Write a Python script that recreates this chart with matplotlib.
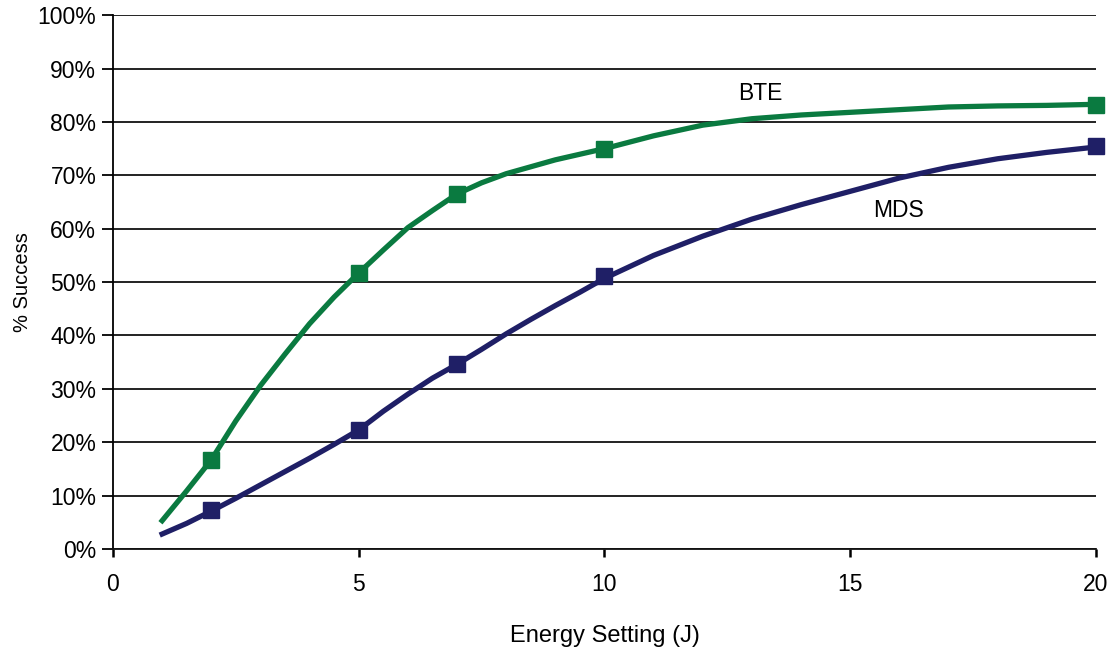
import matplotlib.pyplot as plt
from matplotlib.ticker import FuncFormatter

plt.rcParams["font.family"] = ["Liberation Sans", "DejaVu Sans"]

# curve readings (energy in J, % success)
bte_x = [1, 1.5, 2, 2.5, 3, 3.5, 4, 4.5, 5, 5.5, 6, 6.5, 7, 7.5, 8, 9, 10,
         11, 12, 13, 14, 15, 16, 17, 18, 19, 20]
bte_y = [5.3, 10.9, 16.7, 24, 30.6, 36.5, 42.2, 47.2, 51.7, 56, 60.2, 63.4, 66.5, 68.6, 70.3, 72.9, 75,
         77.4, 79.4, 80.6, 81.3, 81.8, 82.3, 82.8, 83, 83.1, 83.3]
mds_x = [1, 1.5, 2, 2.5, 3, 3.5, 4, 4.5, 5, 5.5, 6, 6.5, 7, 7.5, 8, 8.5, 9, 9.5, 10,
         11, 12, 13, 14, 15, 16, 17, 18, 19, 20]
mds_y = [2.8, 4.8, 7.1, 9.5, 12, 14.5, 17, 19.6, 22.3, 25.8, 29.0, 32.0, 34.6, 37.4, 40.3, 43, 45.6, 48.1, 50.7,
         55, 58.6, 61.8, 64.5, 67, 69.5, 71.5, 73.1, 74.3, 75.3]

# measured points (markers)
marker_x = [2, 5, 7, 10, 20]
bte_pts = [16.7, 51.7, 66.5, 75.0, 83.2]
mds_pts = [7.3, 22.3, 34.6, 51.2, 75.4]

green = "#0a7a40"
navy = "#1f1f66"

fig = plt.figure(figsize=(11.12, 6.51), dpi=100)
ax = fig.add_axes([0.1016, 0.1567, 0.884, 0.82])

ax.plot(bte_x, bte_y, color=green, lw=3.8, solid_joinstyle="round", clip_on=False, zorder=3)
ax.plot(mds_x, mds_y, color=navy, lw=3.8, solid_joinstyle="round", clip_on=False, zorder=3)
ax.plot(marker_x, bte_pts, "s", color=green, ms=11.5, clip_on=False, zorder=4)
ax.plot(marker_x, mds_pts, "s", color=navy, ms=11.5, clip_on=False, zorder=4)

ax.text(13.18, 85.4, "BTE", fontsize=16.5, ha="center", va="center")
ax.text(15.99, 63.5, "MDS", fontsize=16.5, ha="center", va="center")

ax.set_xlim(0, 20)
ax.set_ylim(0, 100)
ax.set_xticks([0, 5, 10, 15, 20])
ax.set_yticks(range(0, 101, 10))
ax.yaxis.set_major_formatter(FuncFormatter(lambda v, p: f"{int(v)}%"))
ax.grid(axis="y", color="#111111", lw=1.3)
ax.set_axisbelow(True)

for s in ["top", "right"]:
    ax.spines[s].set_visible(False)
ax.spines["left"].set_linewidth(1.3)
ax.spines["bottom"].set_linewidth(1.3)
ax.spines["bottom"].set_color("#111111")
ax.tick_params(axis="y", length=8, width=1.3, labelsize=16.5, pad=4)
ax.tick_params(axis="x", length=6, width=1.8, labelsize=16.5, pad=11)

ax.set_xlabel("Energy Setting (J)", fontsize=17, labelpad=21)
ax.set_ylabel("% Success", fontsize=14.5, labelpad=4)

fig.savefig("out.png", dpi=100)
